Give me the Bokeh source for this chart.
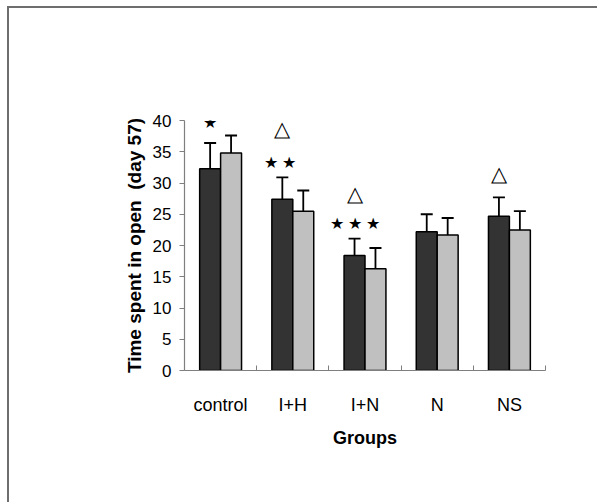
from bokeh.plotting import figure
from bokeh.models import (ColumnDataSource, Whisker, LabelSet, Legend, LegendItem,
                          FixedTicker, Range1d, TeeHead)
from bokeh.transform import dodge
from bokeh.embed import file_html
from bokeh.resources import INLINE

# ---- data ----
groups = ["control", "I+H", "I+N", "N", "NS"]
female = [32.3, 27.4, 18.4, 22.2, 24.7]
female_err = [4.1, 3.5, 2.7, 2.8, 3.0]
male = [34.8, 25.5, 16.3, 21.7, 22.5]
male_err = [2.8, 3.3, 3.3, 2.7, 3.0]
series_labels = ["F", "M"]
y_ticks = [0, 5, 10, 15, 20, 25, 30, 35, 40]

# significance annotations (placed over the F bar)
ann_group = ["control", "I+H", "I+H", "I+N", "I+N", "NS"]
ann_text = ["★", "△", "★  ★", "△", "★ ★ ★", "△"]
ann_y = [39.7, 38.7, 33.3, 28.2, 23.6, 31.5]

FONT = "Liberation Sans"
OX, OY = 9, 8   # canvas offset inside the outer page frame

xc = [i + 0.5 for i in range(len(groups))]
src = ColumnDataSource(dict(
    x=xc, f=female, m=male,
    f_up=[v + e for v, e in zip(female, female_err)],
    m_up=[v + e for v, e in zip(male, male_err)],
))
ann_x = [groups.index(g) + 0.5 for g in ann_group]
ann_src = ColumnDataSource(dict(x=ann_x, y=ann_y, t=ann_text,
                                fs=["16px" if "★" in t else "21px" for t in ann_text]))

p = figure(width=599 - OX, height=504 - OY, output_backend="svg", toolbar_location=None,
           x_range=Range1d(0, len(groups)), y_range=Range1d(0, 40),
           min_border_left=184 - OX, min_border_right=54, min_border_top=120 - OY,
           min_border_bottom=134)
p.styles = {"margin-left": "7px", "margin-top": "6px",
            "border-left": "2px solid #6e6e6e", "border-top": "2px solid #6e6e6e"}
p.outline_line_color = None
p.grid.visible = False
p.background_fill_color = "white"
p.border_fill_color = "white"

off = 0.145
bw = 0.29
rf = p.vbar(x=dodge("x", -off, range=p.x_range), top="f", width=bw, source=src,
            fill_color="#333333", line_color="black", line_width=1.5)
rm = p.vbar(x=dodge("x", off, range=p.x_range), top="m", width=bw, source=src,
            fill_color="#c0c0c0", line_color="black", line_width=1.5)

for dx, base, up in [(-off, "f", "f_up"), (off, "m", "m_up")]:
    w = Whisker(base=dodge("x", dx, range=p.x_range), lower=base, upper=up,
                source=src, dimension="height", line_color="black", line_width=1.8,
                upper_head=TeeHead(size=12, line_color="black", line_width=1.8),
                lower_head=None)
    p.add_layout(w)

labels = LabelSet(x=dodge("x", -off, range=p.x_range), y="y", text="t", source=ann_src,
                  text_align="center", text_baseline="middle",
                  text_font="DejaVu Sans", text_font_size="fs", text_color="black")
p.add_layout(labels)

# axes
yax = p.yaxis[0]
yax.ticker = FixedTicker(ticks=y_ticks)
yax.axis_line_color = "#7f7f7f"
yax.axis_line_width = 1.2
yax.major_tick_line_color = "#7f7f7f"
yax.major_tick_out = 5
yax.major_tick_in = 0
yax.minor_tick_line_color = None
yax.major_label_text_font = FONT
yax.major_label_text_font_size = "17px"
yax.major_label_text_color = "black"
yax.major_label_standoff = 8
yax.axis_label = "Time spent in open\u00a0\u00a0(day 57)"
yax.axis_label_text_font = FONT
yax.axis_label_text_font_style = "bold"
yax.axis_label_text_font_size = "19px"
yax.axis_label_text_color = "black"
yax.axis_label_standoff = 5

xax = p.xaxis[0]
xax.ticker = FixedTicker(ticks=xc, minor_ticks=list(range(len(groups) + 1)))
xax.major_label_overrides = {x: g for x, g in zip(xc, groups)}
xax.axis_line_color = "#7f7f7f"
xax.axis_line_width = 1.2
xax.major_tick_line_color = None
xax.minor_tick_line_color = "#7f7f7f"
xax.minor_tick_in = 5
xax.minor_tick_out = 0
xax.major_label_text_font = FONT
xax.major_label_text_font_size = "18px"
xax.major_label_text_color = "black"
xax.major_label_standoff = 18
xax.axis_label = "Groups"
xax.axis_label_text_font = FONT
xax.axis_label_text_font_style = "bold"
xax.axis_label_text_font_size = "18px"
xax.axis_label_text_color = "black"
xax.axis_label_standoff = 10

legend = Legend(items=[LegendItem(label=series_labels[0], renderers=[rf]),
                       LegendItem(label=series_labels[1], renderers=[rm])],
                location=(379, 93))
legend.label_text_font = FONT
legend.label_text_font_size = "17px"
legend.glyph_width = 10
legend.glyph_height = 10
legend.label_height = 20
legend.spacing = 11
legend.padding = 7
legend.margin = 0
legend.border_line_color = "#a0a0a0"
legend.border_line_width = 1
legend.background_fill_alpha = 1
p.add_layout(legend)

open("out.html", "w").write(file_html(p, INLINE))
